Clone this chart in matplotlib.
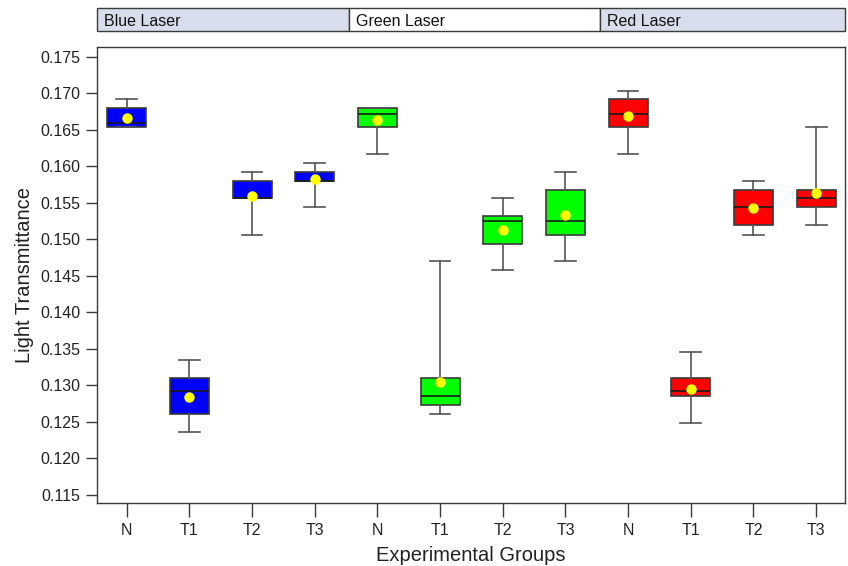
import matplotlib
matplotlib.use("Agg")
import matplotlib.pyplot as plt
from matplotlib.patches import Rectangle

plt.rcParams['font.family'] = ['Liberation Sans', 'DejaVu Sans']

# ---- data ----
lasers = ["Blue Laser", "Green Laser", "Red Laser"]
groups = ["N", "T1", "T2", "T3"]
tick_labels = groups * 3
box_colors = ["#0000FF"] * 4 + ["#00FF00"] * 4 + ["#FF0000"] * 4

whis_lo = [0.16536, 0.12359, 0.15064, 0.15436,
           0.16173, 0.12600, 0.14577, 0.14700,
           0.16173, 0.12482, 0.15064, 0.15195]
q1 = [0.16536, 0.12600, 0.15559, 0.15800,
      0.16536, 0.12723, 0.14941, 0.15064,
      0.16536, 0.12855, 0.15195, 0.15436]
median = [0.16595, 0.12914, 0.15559, 0.15800,
          0.16718, 0.12855, 0.15255, 0.15255,
          0.16718, 0.12914, 0.15436, 0.15559]
q3 = [0.16791, 0.13095, 0.15800, 0.15918,
      0.16791, 0.13095, 0.15318, 0.15677,
      0.16914, 0.13095, 0.15677, 0.15677]
whis_hi = [0.16914, 0.13341, 0.15918, 0.16050,
           0.16791, 0.14700, 0.15559, 0.15918,
           0.17036, 0.13459, 0.15800, 0.16536]
mean = [0.16659, 0.12832, 0.15595, 0.15827,
        0.16632, 0.13045, 0.15132, 0.15327,
        0.16682, 0.12941, 0.15423, 0.15632]

yticks = [0.115, 0.120, 0.125, 0.130, 0.135, 0.140, 0.145,
          0.150, 0.155, 0.160, 0.165, 0.170, 0.175]

W, H = 848, 566
fig = plt.figure(figsize=(W / 100, H / 100), dpi=100)
ax = fig.add_axes([96.7 / W, 1 - 503.3 / H, (845 - 96.7) / W, (503.3 - 46.7) / H])

stats = []
for i in range(len(median)):
    stats.append(dict(med=median[i], q1=q1[i], q3=q3[i], whislo=whis_lo[i],
                      whishi=whis_hi[i], mean=mean[i], fliers=[], label=tick_labels[i]))

positions = list(range(1, len(stats) + 1))
bp = ax.bxp(stats, positions=positions, widths=0.62, patch_artist=True,
            showmeans=True, showfliers=False, capwidths=0.33,
            boxprops=dict(edgecolor="#3a3a3a", linewidth=1.2),
            whiskerprops=dict(color="#555555", linewidth=1.2),
            capprops=dict(color="#555555", linewidth=1.2),
            medianprops=dict(color="#1a1a1a", linewidth=1.2),
            meanprops=dict(marker="o", markerfacecolor="#FFFF00",
                           markeredgecolor="#FFFF00", markersize=6.5))
for patch, c in zip(bp["boxes"], box_colors):
    patch.set_facecolor(c)

ax.set_xlim(0.521, 12.46)
ax.set_ylim(0.11382, 0.17637)
ax.set_yticks(yticks)
ax.set_yticklabels([f"{v:.3f}" for v in yticks])
ax.set_xticks(positions)
ax.set_xticklabels(tick_labels)

for s in ax.spines.values():
    s.set_color("#3a3a3a")
    s.set_linewidth(1.0)
ax.tick_params(axis="both", colors="#3a3a3a", labelcolor="#222222",
               labelsize=11.5, width=1.0)
ax.tick_params(axis="y", length=8, pad=4)
ax.tick_params(axis="x", length=10, pad=4)

ax.set_xlabel("Experimental Groups", fontsize=14.5, color="#222222", labelpad=6)
ax.set_ylabel("Light Transmittance", fontsize=14.5, color="#222222", labelpad=4)

# strips on top
edges = [96.7, 349, 600, 845]
fills = ["#D7DDEA", "#FFFFFF", "#D7DDEA"]
for k, name in enumerate(lasers):
    x0 = edges[k] / W
    x1 = edges[k + 1] / W
    y0 = 1 - 30.7 / H
    y1 = 1 - 8.3 / H
    fig.patches.append(Rectangle((x0, y0), x1 - x0, y1 - y0, transform=fig.transFigure,
                                 facecolor=fills[k], edgecolor="#3a3a3a", linewidth=1.0))
    fig.text(x0 + 7 / W, 1 - 26.5 / H, name, ha="left", va="baseline",
             fontsize=11.5, color="#111111")

fig.savefig("out.png", dpi=100)
